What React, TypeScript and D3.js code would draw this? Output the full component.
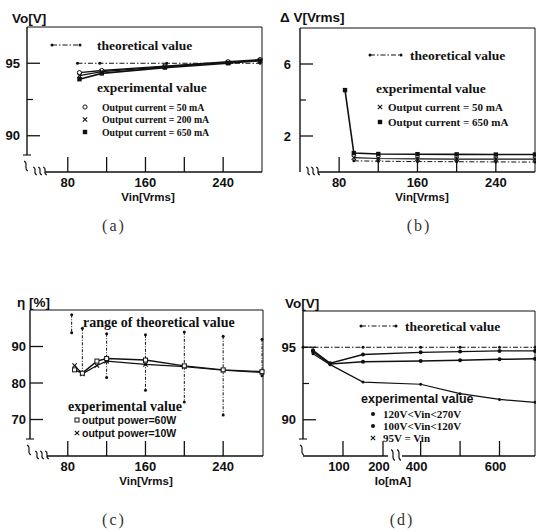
import React from 'react';
import * as d3 from 'd3';

const SANS = '"Liberation Sans", Arial, Helvetica, sans-serif';
const SERIF = '"Liberation Serif", "Times New Roman", serif';
const INK = '#111';
const DASH = '5,2,1.5,2';

// ---------- (a) Vo vs Vin ----------
const vinA = [92, 115, 180, 245, 278];
const voA50mA = [94.35, 94.5, 94.8, 95.1, 95.25];
const voA200mA = [94.15, 94.42, 94.76, 95.06, 95.2];
const voA650mA = [93.9, 94.3, 94.7, 95.0, 95.18];
const vinATheory = [90, 113, 182, 247, 278];
const voATheory = [95, 95, 95, 95, 95];
const legendA = ['Output current = 50 mA', 'Output current = 200 mA', 'Output current = 650 mA'];

// ---------- (b) dV vs Vin ----------
const vinB650 = [86, 95, 120, 160, 200, 240, 280];
const dvB650 = [4.55, 1.05, 1.0, 0.99, 0.98, 0.97, 0.97];
const vinB50 = [95, 120, 160, 200, 240, 280];
const dvB50 = [0.8, 0.75, 0.73, 0.72, 0.71, 0.71];
const vinBTheory = [95, 120, 160, 200, 240, 280];
const dvBTheory = [0.62, 0.6, 0.58, 0.57, 0.56, 0.55];
const legendB = ['Output current = 50 mA', 'Output current = 650 mA'];

// ---------- (c) efficiency vs Vin ----------
const vinC = [87, 95, 110, 120, 160, 200, 240, 280];
const eta60W = [83.6, 82.7, 86.0, 86.7, 86.3, 84.7, 83.6, 83.1];
const eta10W = [84.8, 82.5, 84.8, 86.0, 85.1, 84.5, 83.5, 82.9];
const vinRange = [84, 95, 120, 160, 200, 240, 280];
const rangeHigh = [98.7, 95.0, 93.5, 93.2, 94.0, 92.8, 92.0];
const rangeLow = [93.8, 83.0, 81.5, 78.0, 74.8, 71.2, 82.0];
const legendC = ['output power=60W', 'output power=10W'];

// ---------- (d) Vo vs Io ----------
const ioD = [25, 68, 150, 400, 500, 600, 690];
const voD120 = [94.8, 93.9, 94.5, 94.65, 94.7, 94.75, 94.75];
const voD100 = [94.7, 93.85, 94.0, 94.05, 94.1, 94.17, 94.2];
const voD95 = [94.55, 93.8, 92.6, 92.45, 91.8, 91.4, 91.2];
const ioDTheory = [0, 150, 400, 500, 600, 690];
const voDTheory = [95, 95, 95, 95, 95, 95];
const legendD = ['120V<Vin<270V', '100V<Vin<120V', '95V = Vin'];

// ---------- ticks ----------
const vinTicks = [80, 120, 160, 200, 240];
const vinTickLabels = [80, 160, 240];
const voTicks = [90, 95];
const voMinor = [92.5];
const dvTicks = [2, 6];
const dvMinor = [4];
const etaTicks = [70, 80, 90];
const ioTicks = [100, 200, 400, 500, 600];
const ioTickLabels = [100, 200, 400, 600];

type Pt = [number, number];
const zip = (xs: number[], ys: number[]): Pt[] => xs.map((v, i) => [v, ys[i]] as Pt);

function squiggle(cx: number, cy: number, h: number) {
  return `M${cx - 1.8},${cy - h / 2} C${cx + 3},${cy - h / 5} ${cx - 3},${cy + h / 5} ${cx + 1.8},${cy + h / 2}`;
}

function Marker({ kind, x, y }: { kind: string; x: number; y: number }) {
  if (kind === 'circle') return <circle cx={x} cy={y} r={2.1} fill="#fff" stroke={INK} strokeWidth={1} />;
  if (kind === 'cross')
    return (
      <g stroke={INK} strokeWidth={1.1}>
        <line x1={x - 2.2} y1={y - 2.2} x2={x + 2.2} y2={y + 2.2} />
        <line x1={x - 2.2} y1={y + 2.2} x2={x + 2.2} y2={y - 2.2} />
      </g>
    );
  if (kind === 'square') return <rect x={x - 2.2} y={y - 2.2} width={4.4} height={4.4} fill={INK} />;
  if (kind === 'opensq') return <rect x={x - 2} y={y - 2} width={4} height={4} fill="#fff" stroke={INK} strokeWidth={1} />;
  if (kind === 'dot') return <circle cx={x} cy={y} r={2} fill={INK} />;
  return <circle cx={x} cy={y} r={1.5} fill={INK} />;
}

type FrameProps = {
  x: (v: number) => number;
  y: (v: number) => number;
  left: number; right: number; top: number; bottom: number;
  xTicks: number[]; xLabels: number[]; xLabelDx?: number;
  yTicks: number[]; yMinor: number[];
  yBreak?: boolean; xBreakStart?: number;
  xTitle: string; xTitleX: number;
  yTitle: string; yTitleX: number; yTitleY: number;
  caption: string; captionX: number; captionY: number;
  labelGap?: number;
};

function Frame(p: FrameProps) {
  const dx = p.xLabelDx ?? 0;
  const gap = p.labelGap ?? 7;
  const yEnd = p.yBreak ? p.bottom - 17 : p.bottom;
  const xStart = p.xBreakStart ?? p.left;
  return (
    <g>
      <line x1={p.left} y1={p.top} x2={p.right} y2={p.top} stroke={INK} strokeWidth={1.2} />
      <line x1={p.right} y1={p.top} x2={p.right} y2={p.bottom} stroke={INK} strokeWidth={1} />
      <line x1={p.left} y1={p.top} x2={p.left} y2={yEnd} stroke={INK} strokeWidth={1.4} />
      <line x1={xStart} y1={p.bottom} x2={p.right} y2={p.bottom} stroke={INK} strokeWidth={1.5} />
      {p.yBreak && (
        <g fill="none" stroke={INK} strokeWidth={1.1}>
          <line x1={p.left - 4} y1={yEnd} x2={p.left + 4} y2={yEnd} />
          <path d={squiggle(p.left - 1, p.bottom - 6, 10)} />
        </g>
      )}
      {xStart !== p.left && (
        <g fill="none" stroke={INK} strokeWidth={1.1}>
          <path d={squiggle(xStart - 10, p.bottom - 1, 8)} />
          <path d={squiggle(xStart - 5, p.bottom - 1, 8)} />
          <path d={squiggle(xStart, p.bottom - 1, 8)} />
        </g>
      )}
      {p.xTicks.map((t) => (
        <line key={'xt' + t} x1={p.x(t)} x2={p.x(t)} y1={p.bottom} y2={p.bottom - 15} stroke={INK} strokeWidth={1.3} />
      ))}
      {p.xLabels.map((t) => (
        <text key={'xl' + t} x={p.x(t) + dx} y={p.bottom + 15} textAnchor="middle" fontFamily={SANS} fontWeight="bold" fontSize={13} fill={INK}>
          {t}
        </text>
      ))}
      {p.yTicks.map((t) => (
        <g key={'yt' + t}>
          <line x1={p.left} x2={p.left + 13} y1={p.y(t)} y2={p.y(t)} stroke={INK} strokeWidth={1.3} />
          <text x={p.left - gap} y={p.y(t) + 4.5} textAnchor="end" fontFamily={SANS} fontWeight="bold" fontSize={13} fill={INK}>
            {t}
          </text>
        </g>
      ))}
      {p.yMinor.map((t) => (
        <line key={'ym' + t} x1={p.left} x2={p.left + 6} y1={p.y(t)} y2={p.y(t)} stroke={INK} strokeWidth={1.2} />
      ))}
      <text x={p.xTitleX} y={p.bottom + 29} textAnchor="middle" fontFamily={SANS} fontWeight="bold" fontSize={11.5} fill={INK}>
        {p.xTitle}
      </text>
      <text x={p.yTitleX} y={p.yTitleY} fontFamily={SANS} fontWeight="bold" fontSize={13.5} fill={INK}>
        {p.yTitle}
      </text>
      <text x={p.captionX} y={p.captionY} textAnchor="middle" fontFamily={SERIF} fontSize={16} letterSpacing={2} fill="#333">
        {p.caption}
      </text>
    </g>
  );
}

function Series({ pts, x, y, kind, dashed, width }: { pts: Pt[]; x: any; y: any; kind: string; dashed?: boolean; width?: number }) {
  const line = d3.line<Pt>().x((d) => x(d[0])).y((d) => y(d[1]));
  return (
    <g>
      <path d={line(pts) || ''} fill="none" stroke={INK} strokeWidth={width ?? (dashed ? 1 : 1.5)} strokeDasharray={dashed ? DASH : undefined} />
      {pts.map((d, i) => (
        <Marker key={i} kind={kind} x={x(d[0])} y={y(d[1])} />
      ))}
    </g>
  );
}

function TheoryLegend({ x1, x2, y }: { x1: number; x2: number; y: number }) {
  return (
    <g>
      <line x1={x1} x2={x2} y1={y} y2={y} stroke={INK} strokeWidth={1} strokeDasharray={DASH} />
      <Marker kind="small" x={x1} y={y} />
      <Marker kind="small" x={x2} y={y} />
    </g>
  );
}

function PanelA() {
  const x = d3.scaleLinear().domain([38, 280]).range([27, 262]);
  const y = d3.scaleLinear().domain([87.5, 97.5]).range([172, 27]);
  const kinds = ['circle', 'cross', 'square'];
  return (
    <g>
      <Frame x={x} y={y} left={27} right={262} top={27} bottom={172}
        xTicks={vinTicks} xLabels={vinTickLabels} yTicks={voTicks} yMinor={voMinor}
        yBreak xBreakStart={45} xTitle="Vin[Vrms]" xTitleX={148}
        yTitle="Vo[V]" yTitleX={12} yTitleY={23} caption="(a)" captionX={114} captionY={231} />
      <Series pts={zip(vinATheory, voATheory)} x={x} y={y} kind="small" dashed />
      <Series pts={zip(vinA, voA50mA)} x={x} y={y} kind="circle" width={1.4} />
      <Series pts={zip(vinA, voA200mA)} x={x} y={y} kind="cross" width={1.4} />
      <Series pts={zip(vinA, voA650mA)} x={x} y={y} kind="square" width={1.6} />
      <TheoryLegend x1={52} x2={80} y={45} />
      <text x={97} y={50} fontFamily={SERIF} fontWeight="bold" fontSize={13.5} fill={INK}>theoretical value</text>
      <text x={97} y={92} fontFamily={SERIF} fontWeight="bold" fontSize={13.5} fill={INK}>experimental value</text>
      {legendA.map((s, i) => (
        <g key={s}>
          <Marker kind={kinds[i]} x={85} y={107 + i * 12.5} />
          <text x={102} y={110.5 + i * 12.5} fontFamily={SERIF} fontWeight="bold" fontSize={9.8} fill={INK}>{s}</text>
        </g>
      ))}
    </g>
  );
}

function PanelB() {
  const x = d3.scaleLinear().domain([38, 280]).range([298, 535]);
  const y = d3.scaleLinear().domain([0, 8]).range([172, 28]);
  const kinds = ['cross', 'square'];
  return (
    <g>
      <Frame x={x} y={y} left={300} right={535} top={28} bottom={172}
        xTicks={vinTicks} xLabels={vinTickLabels} yTicks={dvTicks} yMinor={dvMinor}
        xBreakStart={318} xTitle="Vin[Vrms]" xTitleX={422} labelGap={9}
        yTitle="Δ V[Vrms]" yTitleX={280} yTitleY={22} caption="(b)" captionX={419} captionY={231} />
      <Series pts={zip(vinBTheory, dvBTheory)} x={x} y={y} kind="small" dashed />
      <Series pts={zip(vinB50, dvB50)} x={x} y={y} kind="cross" width={1.2} />
      <Series pts={zip(vinB650, dvB650)} x={x} y={y} kind="square" width={1.6} />
      <TheoryLegend x1={370} x2={401} y={55} />
      <text x={410} y={60} fontFamily={SERIF} fontWeight="bold" fontSize={13.5} fill={INK}>theoretical value</text>
      <text x={376} y={93} fontFamily={SERIF} fontWeight="bold" fontSize={13.5} fill={INK}>experimental value</text>
      {legendB.map((s, i) => (
        <g key={s}>
          <Marker kind={kinds[i]} x={380} y={107 + i * 15} />
          <text x={388} y={110.5 + i * 15} fontFamily={SERIF} fontWeight="bold" fontSize={11} fill={INK}>{s}</text>
        </g>
      ))}
    </g>
  );
}

function PanelC() {
  const x = d3.scaleLinear().domain([38, 280]).range([27, 262]);
  const y = d3.scaleLinear().domain([60, 100]).range([456, 310]);
  const kinds = ['opensq', 'cross'];
  return (
    <g>
      <Frame x={x} y={y} left={30} right={263} top={310} bottom={456}
        xTicks={vinTicks} xLabels={vinTickLabels} yTicks={etaTicks} yMinor={[]}
        yBreak xBreakStart={47} xTitle="Vin[Vrms]" xTitleX={146} labelGap={4}
        yTitle="η [%]" yTitleX={17} yTitleY={307} caption="(c)" captionX={114} captionY={525} />
      {vinRange.map((v, i) => (
        <g key={'r' + v}>
          <line x1={x(v)} x2={x(v)} y1={y(rangeHigh[i])} y2={y(rangeLow[i])} stroke={INK} strokeWidth={1} strokeDasharray="3,1.5,1,1.5" />
          <Marker kind="small" x={x(v)} y={y(rangeHigh[i])} />
          <Marker kind="small" x={x(v)} y={y(rangeLow[i])} />
        </g>
      ))}
      <Series pts={zip(vinC, eta10W)} x={x} y={y} kind="cross" width={1.2} />
      <Series pts={zip(vinC, eta60W)} x={x} y={y} kind="opensq" width={1.4} />
      <text x={83} y={327} fontFamily={SERIF} fontWeight="bold" fontSize={14} fill={INK}>range of theoretical value</text>
      <text x={68} y={411} fontFamily={SERIF} fontWeight="bold" fontSize={14} fill={INK}>experimental value</text>
      {legendC.map((s, i) => (
        <g key={s}>
          <Marker kind={kinds[i]} x={77} y={420 + i * 13} />
          <text x={82} y={423.5 + i * 13} fontFamily={SANS} fontWeight="bold" fontSize={10.5} fill={INK}>{s}</text>
        </g>
      ))}
    </g>
  );
}

function PanelD() {
  const x = d3.scaleLinear().domain([0, 235, 340, 690]).range([303, 397, 397, 535]);
  const y = d3.scaleLinear().domain([87.5, 97.5]).range([456, 311]);
  const kinds = ['dot', 'dot', 'cross'];
  return (
    <g>
      <Frame x={x} y={y} left={303} right={535} top={311} bottom={456}
        xTicks={ioTicks} xLabels={ioTickLabels} xLabelDx={-4} yTicks={voTicks} yMinor={voMinor}
        yBreak xTitle="Io[mA]" xTitleX={393}
        yTitle="Vo[V]" yTitleX={285} yTitleY={308} caption="(d)" captionX={402} captionY={525} />
      <g fill="none" stroke={INK} strokeWidth={1.1}>
        <rect x={x(235) - 9} y={450} width={14} height={10} fill="#fff" stroke="none" />
        <path d={squiggle(x(235) - 4, 455, 11)} />
        <path d={squiggle(x(235) + 2, 455, 11)} />
      </g>
      <Series pts={zip(ioDTheory, voDTheory)} x={x} y={y} kind="small" dashed />
      <Series pts={zip(ioD, voD120)} x={x} y={y} kind="dot" width={1.3} />
      <Series pts={zip(ioD, voD100)} x={x} y={y} kind="dot" width={1.5} />
      <Series pts={zip(ioD, voD95)} x={x} y={y} kind="small" width={1.2} />
      <TheoryLegend x1={361} x2={396} y={326} />
      <text x={405} y={331} fontFamily={SERIF} fontWeight="bold" fontSize={13.5} fill={INK}>theoretical value</text>
      <text x={361} y={403} fontFamily={SANS} fontWeight="bold" fontSize={12.5} fill={INK}>experimental value</text>
      {legendD.map((s, i) => (
        <g key={s}>
          <Marker kind={kinds[i]} x={373} y={414 + i * 12} />
          <text x={383} y={417.5 + i * 12} fontFamily={SERIF} fontWeight="bold" fontSize={11} fill={INK}>{s}</text>
        </g>
      ))}
    </g>
  );
}

export default function App() {
  return (
    <svg width={536} height={532} style={{ position: 'absolute', left: 0, top: 0, background: '#fff' }}>
      <rect width={536} height={532} fill="#fff" />
      <PanelA />
      <PanelB />
      <PanelC />
      <PanelD />
    </svg>
  );
}
